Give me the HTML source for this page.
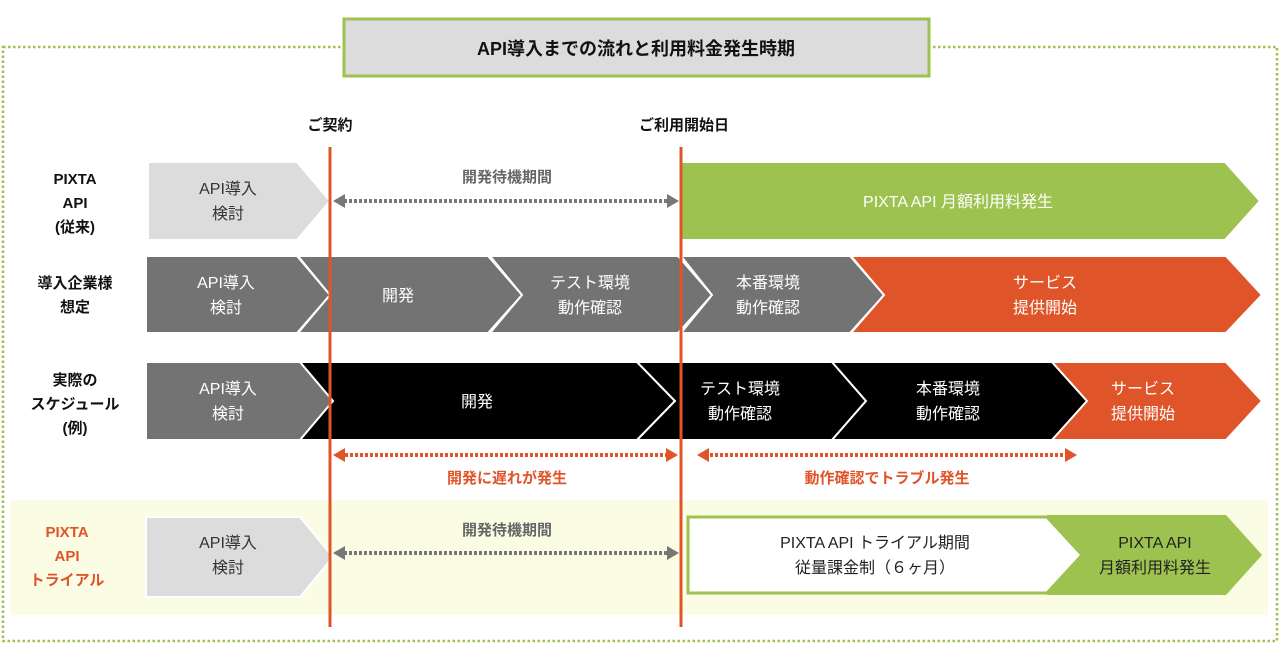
<!DOCTYPE html>
<html><head><meta charset="utf-8"><style>
body{margin:0;background:#fff}
svg{display:block}
text{font-family:"Liberation Sans","Noto Sans CJK JP",sans-serif}
</style></head><body>
<svg width="1280" height="670" viewBox="0 0 1280 670" xmlns="http://www.w3.org/2000/svg">
<rect x="3" y="47" width="1274" height="594" fill="none" stroke="#9dc24f" stroke-width="2.5" stroke-dasharray="2.5 2.5"/>
<rect x="10" y="500" width="1258" height="115" fill="#fafde3"/>
<rect x="344" y="19" width="585" height="57" fill="#dcdcdc" stroke="#9dc24f" stroke-width="3"/>
<text x="636" y="55" font-size="18" font-weight="bold" text-anchor="middle" fill="#111">API導入までの流れと利用料金発生時期</text>
<text x="330" y="130" font-size="15" font-weight="bold" text-anchor="middle" fill="#111">ご契約</text>
<text x="684" y="130" font-size="15" font-weight="bold" text-anchor="middle" fill="#111">ご利用開始日</text>
<g font-size="15" font-weight="bold" text-anchor="middle" fill="#111">
<text x="75" y="184">PIXTA</text><text x="75" y="208">API</text><text x="75" y="232">(従来)</text>
<text x="75" y="288">導入企業様</text><text x="75" y="312">想定</text>
<text x="75" y="385">実際の</text><text x="75" y="409">スケジュール</text><text x="75" y="433">(例)</text>
</g>
<g font-size="15" font-weight="bold" text-anchor="middle" fill="#e0542a">
<text x="67" y="537">PIXTA</text><text x="67" y="561">API</text><text x="67" y="585">トライアル</text>
</g>
<g stroke="#fff" stroke-width="2">
<!-- row1 -->
<polygon points="148,162 297,162 330,201 297,240 148,240" fill="#dcdcdc"/>
<polygon points="681,162 1225,162 1260,201 1225,240 681,240" fill="#9dc24f"/>
<!-- row2 -->
<polygon points="146,256 297,256 330,295 297,333 146,333" fill="#737373"/>
<polygon points="298,256 488,256 522,295 488,333 298,333 330,295" fill="#737373"/>
<polygon points="490,256 678,256 712,295 678,333 490,333 522,295" fill="#737373"/>
<polygon points="681,256 850,256 884,295 850,333 681,333 712,295" fill="#737373"/>
<polygon points="851,256 1226,256 1262,295 1226,333 851,333 884,295" fill="#e0542a"/>
<!-- row3 -->
<polygon points="146,362 300,362 333,401 300,440 146,440" fill="#737373"/>
<polygon points="300,362 637,362 675,401 637,440 300,440 333,401" fill="#000"/>
<polygon points="637,362 832,362 866,401 832,440 637,440 675,401" fill="#000"/>
<polygon points="832,362 1052,362 1087,401 1052,440 832,440 866,401" fill="#000"/>
<polygon points="1052,362 1226,362 1262,401 1226,440 1052,440 1087,401" fill="#e0542a"/>
<!-- trial -->
<polygon points="146,517 300,517 333,557 300,597 146,597" fill="#dcdcdc"/>
</g>
<polygon points="1047,515 1226,515 1262,555 1226,595 1047,595 1083,555" fill="#9dc24f"/>
<polygon points="688,517 1047,517 1082,555 1047,593 688,593" fill="#fff" stroke="#9dc24f" stroke-width="3"/>
<polygon points="1047,516 1226,516 1262,555 1226,594 1047,594 1082,555" fill="#9dc24f"/>
<line x1="330" y1="147" x2="330" y2="627" stroke="#e0542a" stroke-width="3"/>
<line x1="681" y1="147" x2="681" y2="627" stroke="#e0542a" stroke-width="3"/>
<!-- dotted arrows -->
<g stroke-width="4" stroke-dasharray="3 2">
<line x1="344" y1="201" x2="668" y2="201" stroke="#777"/>
<line x1="344" y1="553" x2="668" y2="553" stroke="#777"/>
<line x1="345" y1="455" x2="668" y2="455" stroke="#e0542a"/>
<line x1="710" y1="455" x2="1066" y2="455" stroke="#e0542a"/>
</g>
<g fill="#777">
<polygon points="333,201 345,194 345,208"/><polygon points="679,201 667,194 667,208"/>
<polygon points="333,553 345,546 345,560"/><polygon points="679,553 667,546 667,560"/>
</g>
<g fill="#e0542a">
<polygon points="333,455 345,448 345,462"/><polygon points="678,455 666,448 666,462"/>
<polygon points="697,455 709,448 709,462"/><polygon points="1077,455 1065,448 1065,462"/>
</g>
<g font-size="15" font-weight="bold" text-anchor="middle">
<text x="507" y="182" fill="#666">開発待機期間</text>
<text x="507" y="535" fill="#666">開発待機期間</text>
<text x="507" y="483" fill="#e0542a">開発に遅れが発生</text>
<text x="887" y="483" fill="#e0542a">動作確認でトラブル発生</text>
</g>
<g font-size="16" text-anchor="middle">
<text x="228" y="194" fill="#333">API導入</text><text x="228" y="219" fill="#333">検討</text>
<text x="958" y="207" fill="#fff">PIXTA API 月額利用料発生</text>
<text x="226" y="288" fill="#fff">API導入</text><text x="226" y="313" fill="#fff">検討</text>
<text x="398" y="301" fill="#fff">開発</text>
<text x="590" y="288" fill="#fff">テスト環境</text><text x="590" y="313" fill="#fff">動作確認</text>
<text x="768" y="288" fill="#fff">本番環境</text><text x="768" y="313" fill="#fff">動作確認</text>
<text x="1045" y="288" fill="#fff">サービス</text><text x="1045" y="313" fill="#fff">提供開始</text>
<text x="228" y="394" fill="#fff">API導入</text><text x="228" y="419" fill="#fff">検討</text>
<text x="477" y="407" fill="#fff">開発</text>
<text x="740" y="394" fill="#fff">テスト環境</text><text x="740" y="419" fill="#fff">動作確認</text>
<text x="948" y="394" fill="#fff">本番環境</text><text x="948" y="419" fill="#fff">動作確認</text>
<text x="1143" y="394" fill="#fff">サービス</text><text x="1143" y="419" fill="#fff">提供開始</text>
<text x="228" y="548" fill="#333">API導入</text><text x="228" y="573" fill="#333">検討</text>
<text x="875" y="548" fill="#222">PIXTA API トライアル期間</text><text x="875" y="573" fill="#222">従量課金制（６ヶ月）</text>
<text x="1155" y="548" fill="#222">PIXTA API</text><text x="1155" y="573" fill="#222">月額利用料発生</text>
</g>
</svg>
</body></html>
